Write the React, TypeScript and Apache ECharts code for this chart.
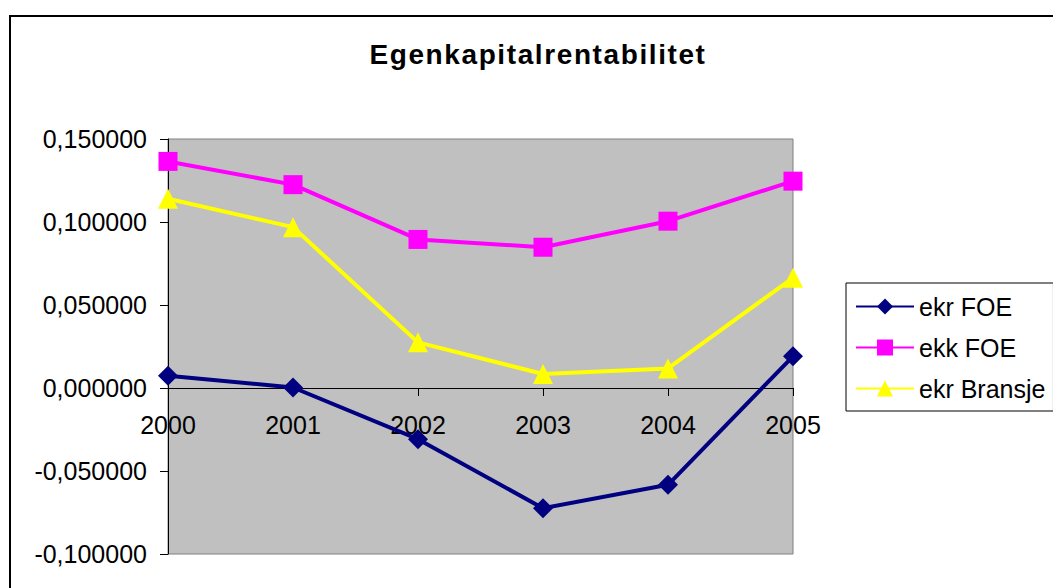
import React, { useEffect, useRef } from 'react';
import * as echarts from 'echarts';

const TITLE = 'Egenkapitalrentabilitet';
const years = ['2000', '2001', '2002', '2003', '2004', '2005'];
const ekrFOE = [0.0074, 0.0003, -0.0308, -0.0724, -0.0583, 0.0191];
const ekkFOE = [0.1365, 0.1225, 0.0895, 0.0848, 0.1005, 0.1246];
const ekrBransje = [0.114, 0.0969, 0.0275, 0.0084, 0.0118, 0.0664];
const yMin = -0.1;
const yMax = 0.15;
const yInterval = 0.05;

const FONT = '"Liberation Sans", Arial, sans-serif';

const GRID_TOP = 139;
const GRID_BOTTOM_Y = 554;

function fmt(v: number): string {
  const x = Math.abs(v) < 1e-9 ? 0 : v;
  return x.toFixed(6).replace('.', ',');
}

export default function App() {
  const ref = useRef<HTMLDivElement>(null);
  useEffect(() => {
    if (!ref.current) return;
    const chart = echarts.init(ref.current, undefined, { renderer: 'svg' });
    const gridHeight = GRID_BOTTOM_Y - GRID_TOP;
    const zeroOffset = -gridHeight * ((0 - yMin) / (yMax - yMin));
    const option: any = {
      animation: false,
      backgroundColor: '#ffffff',
      textStyle: { fontFamily: FONT },
      title: {
        text: TITLE,
        left: 538,
        top: 40,
        textAlign: 'center',
        padding: 0,
        textStyle: { fontFamily: FONT, fontSize: 28, fontWeight: 'bold', color: '#000' },
      },
      graphic: [
        {
          type: 'rect',
          shape: { x: 10, y: 16, width: 1200, height: 800 },
          style: { fill: 'none', stroke: '#000', lineWidth: 2 },
          silent: true,
          z: -10,
        },
      ],
      grid: {
        left: 168,
        top: GRID_TOP,
        right: 1053 - 793,
        bottom: 588 - GRID_BOTTOM_Y,
        containLabel: false,
        outerBoundsMode: 'none',
        show: true,
        backgroundColor: '#C0C0C0',
        borderColor: '#808080',
        borderWidth: 1,
      },
      legend: {
        orient: 'vertical',
        left: 846,
        top: 283,
        padding: [11, 8, 10, 9],
        itemWidth: 58,
        itemHeight: 20,
        itemGap: 16,
        backgroundColor: '#ffffff',
        borderColor: '#000',
        borderWidth: 1,
        borderRadius: 0,
        textStyle: { fontFamily: FONT, fontSize: 25, lineHeight: 22, color: '#000' },
        data: ['ekr FOE', 'ekk FOE', 'ekr Bransje'],
      },
      xAxis: {
        type: 'category',
        data: years,
        boundaryGap: false,
        offset: zeroOffset,
        axisLine: { onZero: false, lineStyle: { color: '#000', width: 1 } },
        axisTick: { show: true, length: 8, lineStyle: { color: '#000' } },
        axisLabel: { fontFamily: FONT, fontSize: 25, color: '#000', margin: 24 },
        splitLine: { show: false },
        z: 1,
      },
      yAxis: {
        type: 'value',
        min: yMin,
        max: yMax,
        interval: yInterval,
        axisLine: { show: true, lineStyle: { color: '#000', width: 1 } },
        axisTick: { show: true, length: 8, lineStyle: { color: '#000' } },
        axisLabel: { fontFamily: FONT, fontSize: 25, color: '#000', margin: 21, formatter: fmt },
        splitLine: { show: false },
      },
      series: [
        {
          name: 'ekr FOE',
          type: 'line',
          data: ekrFOE,
          symbol: 'diamond',
          symbolSize: 20,
          clip: false,
          z: 3,
          lineStyle: { color: '#000080', width: 4 },
          itemStyle: { color: '#000080' },
        },
        {
          name: 'ekk FOE',
          type: 'line',
          data: ekkFOE,
          symbol: 'rect',
          symbolSize: 19,
          clip: false,
          z: 3,
          lineStyle: { color: '#FF00FF', width: 4 },
          itemStyle: { color: '#FF00FF' },
        },
        {
          name: 'ekr Bransje',
          type: 'line',
          data: ekrBransje,
          symbol: 'triangle',
          symbolSize: 20,
          clip: false,
          z: 3,
          lineStyle: { color: '#FFFF00', width: 4 },
          itemStyle: { color: '#FFFF00' },
        },
      ],
    };
    const spaceTitle = () => {
      if (!ref.current) return;
      ref.current.querySelectorAll('text').forEach((t) => {
        if (t.textContent === TITLE) {
          t.setAttribute('letter-spacing', '1.6');
        }
      });
    };
    chart.on('rendered', spaceTitle);
    chart.setOption(option);
    const timer = setTimeout(spaceTitle, 50);
    return () => {
      clearTimeout(timer);
      chart.dispose();
    };
  }, []);
  return (
    <div
      ref={ref}
      style={{ position: 'absolute', left: 0, top: 0, width: 1053, height: 588 }}
    />
  );
}
